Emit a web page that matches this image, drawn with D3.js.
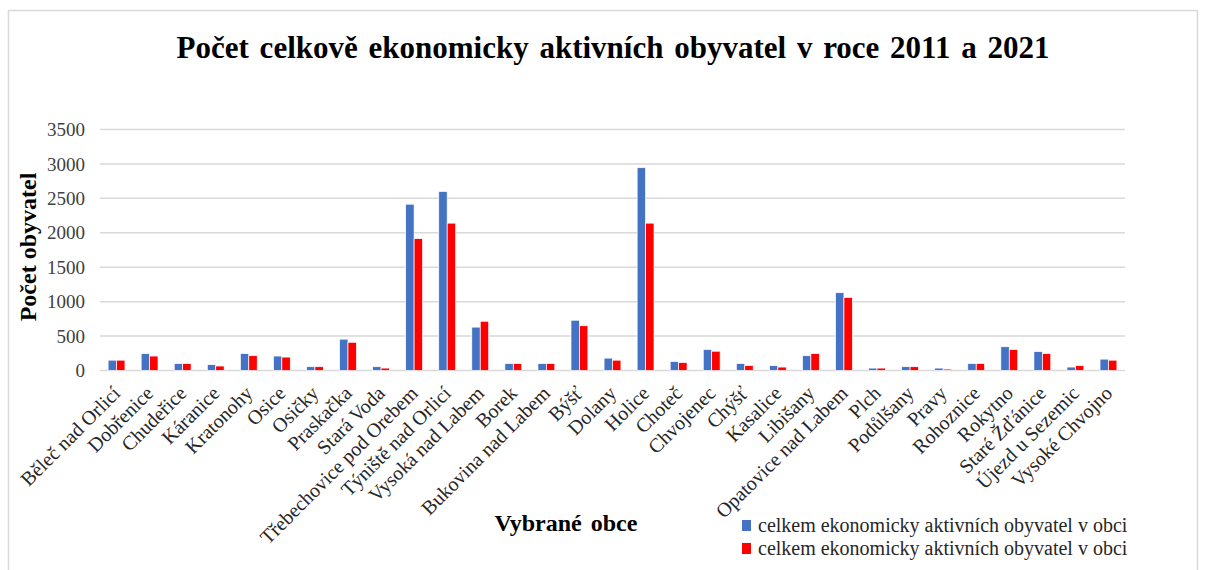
<!DOCTYPE html>
<html>
<head>
<meta charset="utf-8">
<script src="https://cdn.jsdelivr.net/npm/d3@7"></script>
<style>
  body { margin: 0; background: #fff; }
  svg { display: block; font-family: "Liberation Serif", "Times New Roman", serif; }
</style>
</head>
<body>
<svg id="svg1" width="1206" height="570"></svg>
<script>
var obce = ["Běleč nad Orlicí", "Dobřenice", "Chudeřice", "Káranice", "Kratonohy", "Osice", "Osičky",
  "Praskačka", "Stará Voda", "Třebechovice pod Orebem", "Týniště nad Orlicí", "Vysoká nad Labem",
  "Borek", "Bukovina nad Labem", "Býšť", "Dolany", "Holice", "Choteč", "Chvojenec", "Chýšť",
  "Kasalice", "Libišany", "Opatovice nad Labem", "Plch", "Podůlšany", "Pravy", "Rohoznice",
  "Rokytno", "Staré Žďánice", "Újezd u Sezemic", "Vysoké Chvojno"];

var rok2011 = [150, 245, 100, 85, 245, 210, 55, 455, 55, 2415, 2600, 630, 100, 100, 730, 180, 2945,
  130, 305, 100, 70, 215, 1130, 35, 55, 35, 100, 345, 275, 50, 165];
var rok2021 = [150, 210, 100, 65, 215, 195, 55, 410, 35, 1915, 2140, 715, 100, 100, 650, 150, 2140,
  115, 280, 70, 50, 245, 1060, 35, 55, 20, 100, 305, 245, 70, 150];

var yTicks = [0, 500, 1000, 1500, 2000, 2500, 3000, 3500];
var serieNames = ["celkem ekonomicky aktivních obyvatel v obci", "celkem ekonomicky aktivních obyvatel v obci"];
var serieColors = ["#4472C4", "#FF0000"];

var plotLeft = 100, plotRight = 1125, plotTop = 129.5, plotBottom = 370.5;

var svg = d3.select('#svg1');

// chart border
svg.append('rect')
  .attr('x', 8.5).attr('y', 10.5)
  .attr('width', 1189).attr('height', 600)
  .attr('fill', 'none')
  .attr('stroke', '#d9d9d9')
  .attr('stroke-width', 1.5);

// title
svg.append('text')
  .attr('x', 613).attr('y', 58)
  .attr('text-anchor', 'middle')
  .attr('font-size', 31)
  .attr('font-weight', 'bold')
  .attr('word-spacing', 3)
  .attr('fill', '#000')
  .text('Počet celkově ekonomicky aktivních obyvatel v roce 2011 a 2021');

var x0 = d3.scaleBand().domain(obce).range([plotLeft, plotRight]).paddingInner(0.49).paddingOuter(0.245);
var x1 = d3.scaleBand().domain([0, 1]).range([0, x0.bandwidth()]);
var y = d3.scaleLinear().domain([0, 3500]).range([plotBottom, plotTop]);

// gridlines
svg.append('g')
  .selectAll('line')
  .data(yTicks)
  .enter()
  .append('line')
  .attr('x1', plotLeft).attr('x2', plotRight)
  .attr('y1', function (d) { return y(d); })
  .attr('y2', function (d) { return y(d); })
  .attr('stroke', '#d9d9d9')
  .attr('stroke-width', 1.5);

// y axis labels
var yAxis = svg.append('g')
  .attr('transform', 'translate(' + (plotLeft - 15) + ',0)')
  .call(d3.axisLeft(y).tickValues(yTicks).tickFormat(d3.format('d')).tickSize(0).tickPadding(0));
yAxis.select('.domain').remove();
yAxis.selectAll('text')
  .attr('font-family', '"Liberation Serif", serif')
  .attr('font-size', 19)
  .attr('fill', '#404040');

// bars
var groups = svg.append('g')
  .selectAll('g')
  .data(obce)
  .enter()
  .append('g')
  .attr('transform', function (d) { return 'translate(' + x0(d) + ',0)'; });

groups.selectAll('rect')
  .data(function (d, i) { return [rok2011[i], rok2021[i]]; })
  .enter()
  .append('rect')
  .attr('x', function (d, j) { return x1(j); })
  .attr('y', function (d) { return y(d); })
  .attr('width', x1.bandwidth())
  .attr('height', function (d) { return y(0) - y(d); })
  .attr('fill', function (d, j) { return serieColors[j]; })
  .attr('stroke', '#fff')
  .attr('stroke-width', 0.7);

// x axis category labels
var xAxis = svg.append('g')
  .attr('transform', 'translate(0,' + plotBottom + ')')
  .call(d3.axisBottom(x0).tickSize(0).tickPadding(0));
xAxis.select('.domain').remove();
xAxis.selectAll('text')
  .attr('font-family', '"Liberation Serif", serif')
  .attr('font-size', 20)
  .attr('fill', '#262626')
  .attr('text-anchor', 'end')
  .attr('dy', null)
  .attr('y', 0)
  .attr('transform', 'translate(5,24) rotate(-45)');

// axis titles
svg.append('text')
  .attr('transform', 'translate(36,247) rotate(-90)')
  .attr('text-anchor', 'middle')
  .attr('font-size', 24)
  .attr('font-weight', 'bold')
  .text('Počet obyvatel');

svg.append('text')
  .attr('x', 566).attr('y', 531)
  .attr('text-anchor', 'middle')
  .attr('font-size', 24)
  .attr('font-weight', 'bold')
  .attr('word-spacing', 3)
  .text('Vybrané obce');

// legend
var legend = svg.append('g')
  .selectAll('g')
  .data(serieNames)
  .enter()
  .append('g')
  .attr('transform', function (d, i) { return 'translate(742,' + (520 + i * 23) + ')'; });

legend.append('rect')
  .attr('width', 9).attr('height', 11)
  .attr('fill', function (d, i) { return serieColors[i]; });

legend.append('text')
  .attr('x', 16).attr('y', 12)
  .attr('font-size', 20)
  .attr('fill', '#262626')
  .text(function (d) { return d; });
</script>
</body>
</html>
